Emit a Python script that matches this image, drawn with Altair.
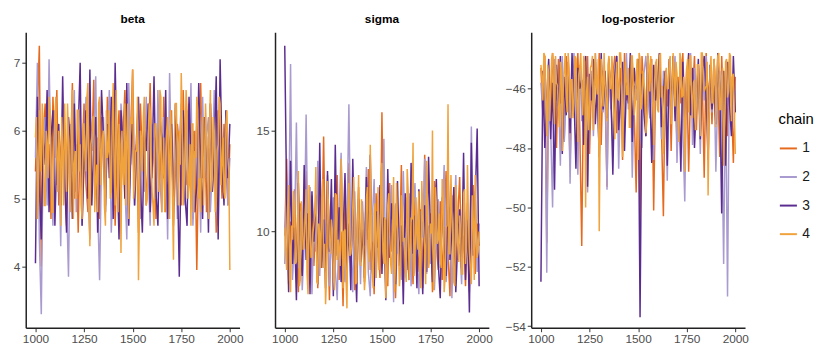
import altair as alt
import pandas as pd
import numpy as np

chains = ["1", "2", "3", "4"]
chain_colors = ["#E66A1E", "#A99AD0", "#5B2C90", "#F0A23C"]
x_ticks = [1000, 1250, 1500, 1750, 2000]

# beta traces (one value per 10 iterations, 1000..2000)
beta_1 = [5.4, 6.3, 7.25, 4.0, 5.9, 6.4, 5.1, 5.8, 4.7, 6.5, 5.6, 6.6, 4.9, 5.7, 6.2, 5.3, 4.6, 6.0, 5.5, 6.7, 5.0, 5.8, 4.5, 6.1, 5.6, 6.4, 5.2, 4.8, 6.3, 5.7, 6.75, 5.1, 5.9, 4.7, 6.2, 5.5, 4.9, 6.5, 5.8, 5.3, 6.1, 4.6, 5.7, 6.3, 5.0, 5.9, 6.6, 5.4, 4.8, 6.0, 6.9, 5.2, 5.8, 4.5, 6.4, 5.6, 6.1, 4.9, 5.5, 6.7, 5.3, 5.9, 4.7, 6.2, 5.7, 5.1, 6.5, 4.8, 6.0, 5.6, 6.3, 4.6, 5.4, 6.1, 5.8, 4.9, 6.6, 5.5, 5.2, 6.4, 5.9, 4.7, 6.0, 3.95, 5.7, 6.7, 5.3, 6.2, 4.8, 5.6, 6.4, 5.1, 5.9, 4.5, 6.3, 5.7, 5.0, 6.1, 5.5, 4.9, 5.8]
beta_2 = [5.6, 7.0, 4.4, 3.3, 5.8, 6.2, 4.9, 7.05, 5.5, 4.6, 6.3, 5.2, 5.9, 4.3, 6.4, 5.7, 5.0, 3.85, 6.1, 5.4, 6.6, 4.8, 5.9, 6.3, 4.6, 5.5, 6.5, 5.1, 4.4, 6.0, 5.7, 6.8, 4.9, 3.8, 5.6, 6.2, 5.0, 5.8, 6.6, 4.5, 5.3, 6.1, 5.7, 4.8, 6.4, 5.9, 5.2, 4.4, 6.7, 5.5, 6.0, 4.9, 5.6, 6.3, 4.7, 5.8, 5.1, 6.5, 5.4, 4.6, 6.1, 5.7, 5.0, 6.6, 5.3, 4.8, 6.2, 5.9, 4.4, 6.85, 5.5, 5.1, 6.0, 4.7, 5.8, 6.4, 5.2, 4.9, 6.3, 5.6, 6.7, 4.6, 5.4, 6.1, 5.8, 4.5, 6.5, 5.3, 5.9, 6.2, 4.8, 5.5, 6.6, 5.0, 4.6, 6.0, 5.7, 5.2, 6.3, 4.9, 5.6]
beta_3 = [4.05, 6.5, 5.2, 4.4, 6.0, 5.5, 6.6, 4.8, 5.9, 6.3, 4.6, 5.7, 6.1, 4.9, 6.8, 5.3, 4.5, 6.2, 5.8, 4.7, 6.4, 5.1, 6.0, 7.0, 4.6, 5.6, 6.3, 5.0, 6.9, 4.9, 5.8, 6.2, 4.5, 5.4, 6.6, 5.9, 4.8, 6.1, 5.3, 6.5, 4.7, 7.0, 5.5, 4.4, 6.3, 5.8, 5.0, 6.7, 4.6, 5.6, 6.2, 4.9, 5.9, 6.5, 5.2, 4.5, 6.0, 5.7, 6.4, 4.8, 5.5, 6.8, 5.1, 4.6, 6.2, 5.9, 5.3, 6.6, 4.7, 5.7, 6.1, 4.9, 6.4, 5.4, 3.85, 5.8, 6.3, 5.0, 4.6, 6.5, 5.6, 6.0, 4.8, 5.2, 6.7, 5.5, 4.7, 6.2, 5.9, 4.5, 6.4, 5.1, 5.7, 6.8, 4.4, 7.05, 5.6, 4.9, 6.3, 5.3, 6.1]
beta_4 = [5.9, 4.7, 6.3, 5.4, 6.1, 4.9, 5.8, 6.5, 5.2, 4.8, 6.2, 5.6, 6.0, 4.6, 5.7, 6.4, 5.1, 5.9, 4.8, 6.6, 5.5, 5.0, 6.3, 5.8, 4.7, 6.1, 5.4, 6.7, 4.3, 5.9, 6.2, 5.3, 4.8, 6.5, 5.7, 6.0, 4.6, 5.6, 6.3, 5.1, 6.7, 4.9, 5.8, 6.1, 4.2, 5.5, 6.4, 5.9, 4.7, 6.2, 6.9, 5.2, 5.7, 3.8, 6.0, 5.4, 6.5, 4.9, 5.8, 6.3, 5.1, 4.6, 6.1, 5.6, 6.6, 4.8, 5.9, 5.3, 6.2, 4.7, 5.7, 4.1, 6.4, 5.5, 6.0, 6.85, 4.9, 5.8, 6.3, 5.2, 4.6, 6.1, 5.7, 6.5, 5.0, 4.8, 6.2, 5.6, 5.9, 4.7, 6.6, 5.3, 6.0, 4.9, 5.8, 6.4, 5.5, 5.1, 6.1, 5.6, 3.95]
# chain 4 draws in between (1005, 1015, ..., 1995)
beta_4_mid = [6.2, 5.0, 5.7, 6.4, 4.9, 6.0, 5.3, 6.3, 4.8, 5.9, 6.5, 5.1, 5.6, 6.2, 4.9, 5.8, 6.4, 5.2, 6.0, 4.7, 5.7, 6.3, 5.4, 4.9, 6.1, 5.6, 6.5, 5.0, 5.8, 6.2, 4.8, 5.5, 6.4, 5.2, 5.9, 4.9, 6.3, 5.7, 5.0, 6.1, 5.4, 6.6, 4.8, 5.8, 6.0, 5.2, 4.9, 6.4, 5.6, 6.1, 5.0, 5.7, 6.5, 4.8, 5.9, 6.2, 5.3, 5.0, 6.4, 5.6, 4.9, 6.1, 5.8, 5.1, 6.5, 5.4, 4.8, 6.0, 5.7, 6.3, 5.0, 5.9, 6.4, 4.9, 5.5, 6.2, 5.2, 6.6, 5.0, 5.8, 6.1, 4.8, 5.6, 6.3, 5.3, 5.9, 4.9, 6.4, 5.5, 6.0, 5.1, 6.2, 4.8, 5.7, 6.5, 5.2, 5.9, 5.0, 6.3, 5.4]

# sigma traces
sigma_1 = [9.8, 13.6, 7.4, 10.5, 8.6, 12.1, 9.2, 7.0, 11.4, 8.9, 10.2, 13.0, 7.8, 9.6, 11.8, 8.3, 10.7, 7.2, 12.6, 9.1, 14.7, 8.0, 10.4, 6.6, 11.2, 9.4, 8.2, 12.8, 7.6, 10.0, 6.3, 11.6, 9.0, 13.4, 8.4, 10.8, 7.1, 9.7, 12.2, 8.7, 11.0, 7.5, 10.3, 13.1, 8.1, 9.5, 6.9, 11.9, 9.3, 7.7, 15.9, 8.5, 10.6, 7.3, 12.4, 9.0, 11.3, 6.7, 10.1, 8.8, 13.3, 7.9, 9.9, 11.7, 8.3, 10.5, 7.4, 12.0, 9.2, 8.0, 11.1, 7.2, 13.8, 9.6, 8.6, 10.9, 7.0, 12.5, 9.4, 8.1, 11.5, 7.6, 10.2, 13.0, 8.9, 6.8, 11.8, 9.1, 7.8, 10.7, 12.7, 8.4, 9.8, 7.3, 11.4, 9.0, 8.2, 12.3, 7.9, 10.4, 9.3]
sigma_2 = [8.4, 12.5, 10.1, 18.3, 7.6, 9.8, 15.4, 8.2, 11.0, 7.1, 9.4, 15.8, 8.7, 12.2, 6.9, 10.6, 9.0, 13.5, 7.8, 11.3, 8.5, 10.0, 12.8, 7.3, 9.6, 11.7, 8.1, 6.6, 10.9, 13.9, 8.8, 7.5, 10.3, 16.3, 9.2, 7.0, 12.0, 8.6, 10.7, 7.4, 11.5, 9.3, 13.2, 8.0, 6.8, 10.5, 12.6, 7.7, 9.9, 11.1, 8.3, 14.6, 7.2, 10.0, 9.1, 12.3, 6.5, 11.4, 8.9, 10.2, 7.6, 13.0, 9.5, 8.1, 11.9, 7.3, 10.8, 12.4, 8.7, 6.9, 11.0, 9.7, 13.6, 7.9, 10.3, 8.4, 12.1, 7.1, 9.8, 11.6, 8.2, 10.5, 13.3, 7.5, 9.0, 11.2, 6.7, 10.1, 12.8, 8.6, 9.4, 7.4, 11.8, 8.8, 10.6, 7.0, 15.2, 9.2, 12.0, 8.0, 10.4]
sigma_3 = [19.2, 11.5, 7.0, 13.5, 8.4, 10.2, 6.6, 12.4, 9.1, 7.8, 13.3, 8.6, 10.9, 6.9, 12.0, 9.5, 11.8, 7.4, 14.4, 8.2, 10.6, 7.2, 13.0, 9.0, 12.6, 6.8, 14.3, 8.8, 11.2, 7.5, 9.7, 12.9, 8.0, 10.4, 7.1, 13.6, 9.3, 6.5, 11.6, 8.5, 10.1, 7.7, 12.7, 9.6, 13.8, 8.1, 7.3, 11.0, 9.2, 12.3, 7.9, 10.7, 6.6, 13.1, 8.7, 11.4, 9.9, 7.4, 12.5, 8.3, 10.3, 6.4, 11.9, 9.0, 7.6, 13.4, 8.9, 10.8, 7.2, 12.1, 9.4, 6.9, 11.3, 8.0, 13.7, 9.8, 7.5, 10.5, 12.6, 8.4, 6.7, 11.7, 9.1, 7.8, 13.2, 8.6, 10.0, 12.2, 7.0, 9.5, 11.1, 8.2, 13.9, 7.6, 10.6, 6.0, 14.4, 8.8, 11.5, 15.1, 7.3]
sigma_4 = [10.2, 8.1, 12.3, 7.0, 9.6, 11.4, 8.5, 13.0, 7.6, 10.8, 9.2, 12.1, 6.9, 11.0, 8.8, 10.4, 13.2, 7.4, 9.9, 11.7, 8.2, 6.4, 12.5, 9.4, 10.6, 7.8, 11.9, 8.6, 9.0, 13.6, 7.2, 10.1, 6.2, 12.4, 8.9, 11.2, 9.7, 7.5, 12.8, 8.3, 10.5, 7.1, 11.6, 9.3, 14.3, 8.0, 10.9, 7.7, 12.2, 9.0, 13.4, 8.4, 6.7, 11.3, 9.8, 7.9, 12.7, 8.7, 10.3, 7.3, 11.8, 9.5, 8.1, 13.1, 7.6, 10.7, 14.4, 8.5, 9.9, 12.0, 7.2, 11.1, 9.1, 13.5, 8.2, 10.4, 15.0, 7.8, 11.4, 9.6, 8.6, 12.6, 7.0, 10.2, 16.3, 8.9, 11.0, 7.5, 12.3, 9.3, 10.8, 7.9, 11.9, 8.4, 13.3, 9.0, 7.4, 10.6, 12.8, 8.7, 10.0]
sigma_4_mid = [8.9, 11.2, 7.6, 10.3, 12.0, 8.4, 9.7, 7.3, 11.5, 9.1, 10.6, 7.9, 12.3, 8.7, 9.9, 11.0, 7.5, 10.4, 8.2, 12.6, 9.4, 7.8, 11.3, 8.9, 10.1, 7.1, 11.8, 9.6, 8.3, 12.1, 10.0, 7.7, 11.1, 8.8, 9.5, 12.7, 7.4, 10.5, 8.6, 11.6, 9.2, 7.9, 12.2, 8.5, 10.8, 7.2, 11.4, 9.8, 8.1, 12.9, 9.0, 10.7, 7.6, 11.9, 8.4, 10.2, 7.0, 12.4, 9.3, 8.0, 11.2, 9.7, 7.5, 12.0, 8.8, 10.6, 7.8, 11.7, 9.1, 8.3, 12.5, 10.1, 7.4, 11.0, 8.6, 9.9, 7.1, 12.2, 9.4, 10.9, 8.2, 11.5, 7.7, 10.3, 8.9, 12.8, 9.6, 7.3, 11.3, 8.5, 10.0, 7.9, 12.1, 9.2, 10.7, 8.1, 11.8, 7.6, 10.4, 9.0]

# log-posterior traces
lp_1 = [-45.3, -46.8, -44.9, -51.2, -45.6, -47.2, -44.8, -46.1, -48.0, -45.0, -46.5, -45.4, -47.7, -44.9, -46.0, -48.6, -45.2, -46.9, -45.7, -44.8, -47.4, -51.3, -45.5, -46.3, -44.9, -48.2, -45.8, -47.0, -45.1, -46.6, -44.8, -47.9, -45.4, -46.2, -49.3, -45.0, -46.7, -45.6, -44.9, -47.5, -46.0, -45.3, -48.4, -44.8, -46.4, -45.7, -47.1, -45.1, -46.8, -49.5, -45.2, -50.5, -44.9, -46.1, -47.6, -45.5, -46.9, -45.0, -50.1, -45.8, -46.3, -44.8, -47.3, -50.3, -45.4, -46.6, -45.1, -48.1, -44.9, -46.0, -47.8, -45.6, -46.5, -44.8, -47.0, -45.3, -48.8, -45.9, -46.2, -44.9, -47.4, -45.2, -46.7, -45.7, -49.0, -44.8, -46.4, -45.5, -47.2, -45.0, -46.1, -45.8, -48.3, -44.9, -46.9, -45.4, -47.6, -45.1, -46.3, -48.5, -45.6]
lp_2 = [-45.8, -46.9, -45.1, -52.2, -45.5, -47.3, -50.0, -45.0, -46.4, -45.9, -48.6, -44.9, -47.8, -46.2, -45.3, -49.2, -45.7, -44.8, -46.6, -48.9, -45.2, -47.1, -45.6, -44.9, -49.5, -46.0, -45.4, -47.6, -44.8, -46.3, -48.3, -45.1, -46.8, -45.7, -49.4, -45.0, -46.5, -47.9, -45.3, -44.9, -48.7, -46.1, -45.6, -47.2, -44.8, -46.7, -45.2, -49.0, -45.9, -46.4, -45.0, -47.5, -48.0, -45.5, -44.9, -46.2, -47.0, -45.8, -48.4, -45.1, -46.6, -44.8, -47.7, -45.4, -46.0, -49.1, -45.2, -46.9, -45.7, -44.9, -48.5, -46.3, -45.0, -47.4, -49.8, -45.6, -46.1, -44.8, -47.9, -45.3, -46.7, -45.9, -48.2, -45.1, -46.4, -44.9, -47.3, -45.5, -46.8, -45.2, -48.8, -46.0, -45.4, -47.1, -51.9, -45.7, -53.0, -45.0, -46.5, -45.8, -46.2]
lp_3 = [-52.5, -45.4, -48.0, -46.3, -45.0, -47.7, -45.8, -49.4, -45.2, -46.6, -44.9, -48.2, -45.6, -46.9, -45.1, -47.5, -44.8, -46.2, -48.7, -45.3, -46.0, -45.7, -47.9, -44.9, -49.3, -45.5, -46.4, -45.0, -47.2, -45.9, -48.3, -44.8, -46.7, -45.4, -47.0, -45.2, -46.1, -48.9, -45.6, -44.9, -47.4, -46.3, -45.1, -48.1, -45.8, -46.5, -44.8, -47.8, -45.3, -46.0, -45.0, -53.7, -45.5, -46.8, -47.6, -44.9, -45.9, -48.5, -45.2, -46.4, -45.7, -44.8, -47.3, -46.1, -45.4, -48.6, -45.0, -46.6, -44.9, -47.1, -45.6, -46.2, -48.8, -45.1, -47.5, -45.8, -44.8, -46.9, -45.3, -48.0, -46.4, -45.0, -47.7, -45.5, -44.9, -46.3, -48.4, -45.2, -46.7, -45.9, -47.2, -44.8, -46.0, -50.2, -45.4, -48.6, -45.1, -46.5, -47.6, -44.9, -46.8]
lp_4 = [-45.2, -46.4, -44.9, -47.6, -45.5, -46.0, -44.8, -47.2, -45.8, -46.7, -45.1, -48.1, -45.4, -46.3, -44.8, -47.0, -45.7, -46.5, -45.0, -47.8, -45.3, -46.1, -44.9, -50.0, -45.6, -46.8, -45.2, -47.4, -44.8, -46.2, -50.8, -45.0, -46.6, -45.9, -47.1, -44.9, -46.0, -45.5, -47.7, -45.1, -46.4, -44.8, -48.3, -45.7, -46.2, -45.3, -47.3, -44.9, -46.9, -45.6, -48.4, -45.0, -46.5, -45.8, -47.5, -44.8, -46.1, -45.4, -47.9, -45.2, -46.7, -44.9, -46.3, -48.2, -45.6, -46.0, -45.1, -47.2, -44.8, -46.6, -45.5, -47.8, -45.0, -46.2, -48.8, -45.3, -46.8, -44.9, -47.0, -45.7, -46.4, -45.2, -47.6, -44.8, -46.1, -45.9, -49.6, -45.4, -46.5, -45.0, -47.3, -44.9, -46.7, -45.6, -48.6, -45.1, -46.3, -44.8, -47.1, -45.5, -48.2]
lp_4_mid = [-45.6, -44.8, -46.5, -45.2, -47.1, -45.0, -46.2, -44.9, -45.9, -47.3, -45.4, -46.0, -44.8, -46.8, -45.3, -45.7, -47.0, -44.9, -46.3, -45.5, -44.8, -46.9, -45.1, -46.1, -47.4, -45.3, -44.9, -46.6, -45.8, -45.0, -47.2, -45.6, -44.8, -46.4, -45.2, -46.0, -44.9, -47.0, -45.7, -46.3, -44.8, -45.5, -46.9, -45.1, -46.2, -47.3, -44.9, -45.8, -46.5, -45.0, -44.8, -46.7, -45.4, -46.1, -47.1, -45.2, -44.9, -46.4, -45.7, -45.0, -46.8, -44.8, -45.9, -47.2, -45.3, -46.0, -44.9, -46.6, -45.5, -45.1, -47.0, -44.8, -46.3, -45.6, -46.9, -45.0, -44.9, -46.2, -45.8, -47.4, -45.2, -46.5, -44.8, -45.7, -46.0, -45.1, -47.1, -44.9, -46.4, -45.4, -45.9, -44.8, -46.7, -45.3, -47.2, -45.0, -46.1, -44.9, -45.6, -46.8]

FONT = "Liberation Sans"


def frame(series, extra_chain4):
    rows = []
    for c, vals in zip(chains, series):
        its = np.linspace(1000, 2000, len(vals))
        for it, v in zip(its, vals):
            rows.append({"iteration": float(it), "value": v, "chain": c})
    its = np.linspace(1005, 1995, len(extra_chain4))
    for it, v in zip(its, extra_chain4):
        rows.append({"iteration": float(it), "value": v, "chain": "4"})
    df = pd.DataFrame(rows)
    df["corder"] = df["chain"].astype(int)
    return df.sort_values(["corder", "iteration"]).reset_index(drop=True)


def panel(series, extra, title, ydom, yticks):
    df = frame(series, extra)
    return (
        alt.Chart(df, title=alt.Title(title, fontWeight="bold", fontSize=12, font=FONT,
                                      color="#000000", offset=6))
        .mark_line(strokeWidth=1.5)
        .encode(
            x=alt.X("iteration:Q",
                    scale=alt.Scale(domain=[950, 2050], nice=False, zero=False),
                    axis=alt.Axis(values=x_ticks, title=None, format="d")),
            y=alt.Y("value:Q",
                    scale=alt.Scale(domain=ydom, nice=False, zero=False),
                    axis=alt.Axis(values=yticks, title=None)),
            color=alt.Color("chain:N",
                            scale=alt.Scale(domain=chains, range=chain_colors),
                            legend=alt.Legend(title="chain", orient="none",
                                              legendX=764, legendY=81,
                                              symbolType="stroke",
                                              symbolStrokeWidth=2,
                                              symbolSize=300,
                                              rowPadding=12,
                                              titlePadding=12,
                                              titleFontSize=15,
                                              titleFontWeight="normal",
                                              labelFontSize=14,
                                              titleColor="#000000",
                                              labelColor="#1a1a1a",
                                              titleFont=FONT, labelFont=FONT)),
        )
        .properties(width=217, height=300)
    )


p1 = panel([beta_1, beta_2, beta_3, beta_4], beta_4_mid, "beta", [3.1, 7.45], [4, 5, 6, 7])
p2 = panel([sigma_1, sigma_2, sigma_3, sigma_4], sigma_4_mid, "sigma", [5.24, 19.87], [10, 15])
p3 = panel([lp_1, lp_2, lp_3, lp_4], lp_4_mid, "log-posterior", [-54.05, -44.1], [-54, -52, -50, -48, -46])

chart = (
    alt.hconcat(p1, p2, p3, spacing=12)
    .resolve_scale(x="independent", y="independent", color="shared")
    .properties(padding={"left": 5, "top": 3, "right": 0, "bottom": 0})
    .configure_view(stroke=None)
    .configure_axis(
        grid=False,
        domainColor="#222222",
        domainWidth=1.5,
        tickColor="#333333",
        tickSize=4,
        tickWidth=1,
        labelColor="#4d4d4d",
        labelFontSize=12,
        labelFont=FONT,
        labelPadding=2,
    )
    .configure_concat(spacing=12)
)

chart.save("out.html", embed_options={"renderer": "svg", "actions": False})
